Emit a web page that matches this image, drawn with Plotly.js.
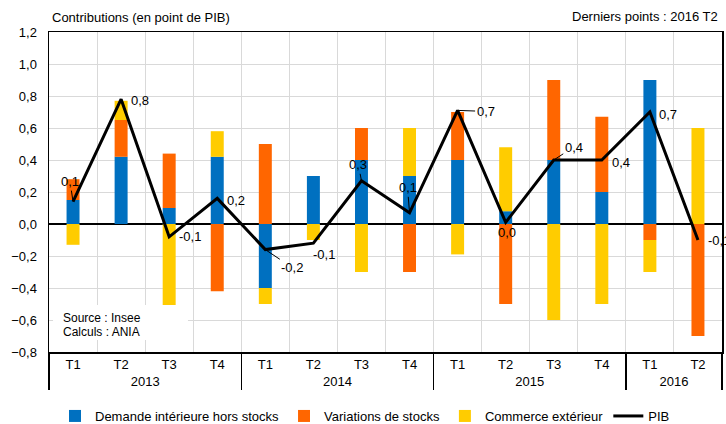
<!DOCTYPE html>
<html>
<head>
<meta charset="utf-8">
<script src="https://cdn.plot.ly/plotly-3.0.1.min.js"></script>
<style>
html,body{margin:0;padding:0;background:#fff;}
#chart{width:726px;height:424px;}
</style>
</head>
<body>
<div id="chart"></div>
<script>
// ---- Data ----
const years = ['2013','2013','2013','2013','2014','2014','2014','2014','2015','2015','2015','2015','2016','2016'];
const quarters = ['T1','T2','T3','T4','T1','T2','T3','T4','T1','T2','T3','T4','T1','T2'];
const demandeInterieure = [0.15,0.42,0.10,0.42,-0.40,0.30,0.40,0.30,0.40,0.08,0.40,0.20,0.90,0.00];
const variationsStocks = [0.13,0.23,0.34,-0.42,0.50,0.00,0.20,-0.30,0.30,-0.50,0.50,0.47,-0.10,-0.70];
const commerceExterieur = [-0.13,0.12,-0.51,0.16,-0.10,-0.10,-0.30,0.30,-0.19,0.40,-0.60,-0.50,-0.20,0.60];
const pib = [0.14,0.78,-0.08,0.16,-0.16,-0.12,0.27,0.07,0.71,0.01,0.40,0.40,0.70,-0.10];
const seriesNames = ['Demande intérieure hors stocks','Variations de stocks','Commerce extérieur','PIB'];
const yTickVals = [-0.8,-0.6,-0.4,-0.2,0,0.2,0.4,0.6,0.8,1.0,1.2];

// ---- Styles (label offsets in px, leader line flag) ----
const labelStyle = [
  {ax:-3, ay:-20, lead:true},
  {ax:19, ay:1, lead:false},
  {ax:21, ay:0, lead:false},
  {ax:19, ay:2, lead:false},
  {ax:27, ay:18, lead:true},
  {ax:11, ay:11, lead:false},
  {ax:-3, ay:-16, lead:true},
  {ax:-2, ay:-25, lead:true},
  {ax:28, ay:1, lead:true},
  {ax:1, ay:10, lead:false},
  {ax:20, ay:-13, lead:true},
  {ax:19, ay:2, lead:false},
  {ax:18, ay:2, lead:false},
  {ax:21, ay:0, lead:false}
];
const FONT = 'Liberation Sans, Arial, sans-serif';
const x = [years, quarters];

const traces = [
  {type:'bar', name:seriesNames[0], x:x, y:demandeInterieure, marker:{color:'#0070C0'}, hoverinfo:'y'},
  {type:'bar', name:seriesNames[1], x:x, y:variationsStocks, marker:{color:'#FF6600'}, hoverinfo:'y'},
  {type:'bar', name:seriesNames[2], x:x, y:commerceExterieur, marker:{color:'#FFCC00'}, hoverinfo:'y'},
  {type:'scatter', mode:'lines', name:seriesNames[3], x:x, y:pib, line:{color:'#000', width:3}, hoverinfo:'y'}
];

const fmt = v => v.toFixed(1).replace('.', ',');
const annotations = pib.map((v,i) => ({
  x:i, y:v, xref:'x', yref:'y', text:fmt(v),
  showarrow:true, arrowhead:0, arrowwidth:1,
  arrowcolor: labelStyle[i].lead ? '#000' : 'rgba(0,0,0,0)',
  ax:labelStyle[i].ax, ay:labelStyle[i].ay, standoff:0,
  font:{family:FONT, size:13, color:'#000'}
}));
annotations.push({
  xref:'paper', yref:'paper', x:0.0178, y:0.106, xanchor:'left', yanchor:'middle',
  text:'Source : Insee', showarrow:false,
  font:{family:FONT, size:12, color:'#000'}
});
annotations.push({
  xref:'paper', yref:'paper', x:0.0178, y:0.0625, xanchor:'left', yanchor:'middle',
  text:'Calculs : ANIA', showarrow:false,
  font:{family:FONT, size:12, color:'#000'}
});
annotations.push({
  xref:'paper', yref:'paper', x:0.997, y:1.047, xanchor:'right', yanchor:'middle',
  text:'Derniers points : 2016 T2', showarrow:false,
  font:{family:FONT, size:13, color:'#000'}
});

const layout = {
  width:726, height:424,
  margin:{l:49, r:4, t:32, b:72},
  paper_bgcolor:'#fff', plot_bgcolor:'#fff',
  separators:', ',
  font:{family:FONT, size:13, color:'#000'},
  title:{text:'Contributions (en point de PIB)', xref:'container', yref:'container',
         x:52/726, xanchor:'left', y:1-17/424, yanchor:'middle',
         font:{family:FONT, size:13, color:'#000'}},
  barmode:'relative', bargap:0.73,
  showlegend:true,
  legend:{orientation:'h', xref:'container', yref:'container', x:55/726, xanchor:'left',
          y:1-416/424, yanchor:'middle', font:{family:FONT, size:13, color:'#000'},
          traceorder:'normal', itemwidth:30},
  shapes:[{type:'rect', xref:'paper', yref:'paper', x0:0.006, x1:0.2065, y0:0.0375, y1:0.147,
           fillcolor:'#fff', line:{width:0}, layer:'above'}],
  xaxis:{type:'multicategory', range:[-0.5,13.5], autorange:false, tickson:'boundaries',
         showgrid:true, gridcolor:'#d9d9d9', gridwidth:1,
         showline:true, mirror:true, linecolor:'#000', linewidth:1.5, ticks:'',
         showdividers:true, dividercolor:'#000', dividerwidth:1.5,
         tickfont:{family:FONT, size:13, color:'#000'}},
  yaxis:{range:[-0.8,1.2], autorange:false, tickvals:yTickVals, tickformat:'.1f', showgrid:true, gridcolor:'#d9d9d9', gridwidth:1,
         showline:true, mirror:true, linecolor:'#000', linewidth:1.5, ticks:'',
         zeroline:true, zerolinecolor:'#000', zerolinewidth:1.5,
         ticklabelstandoff:8,
         tickfont:{family:FONT, size:13, color:'#000'}},
  annotations:annotations
};

Plotly.newPlot('chart', traces, layout, {staticPlot:true, displayModeBar:false});
</script>
</body>
</html>
